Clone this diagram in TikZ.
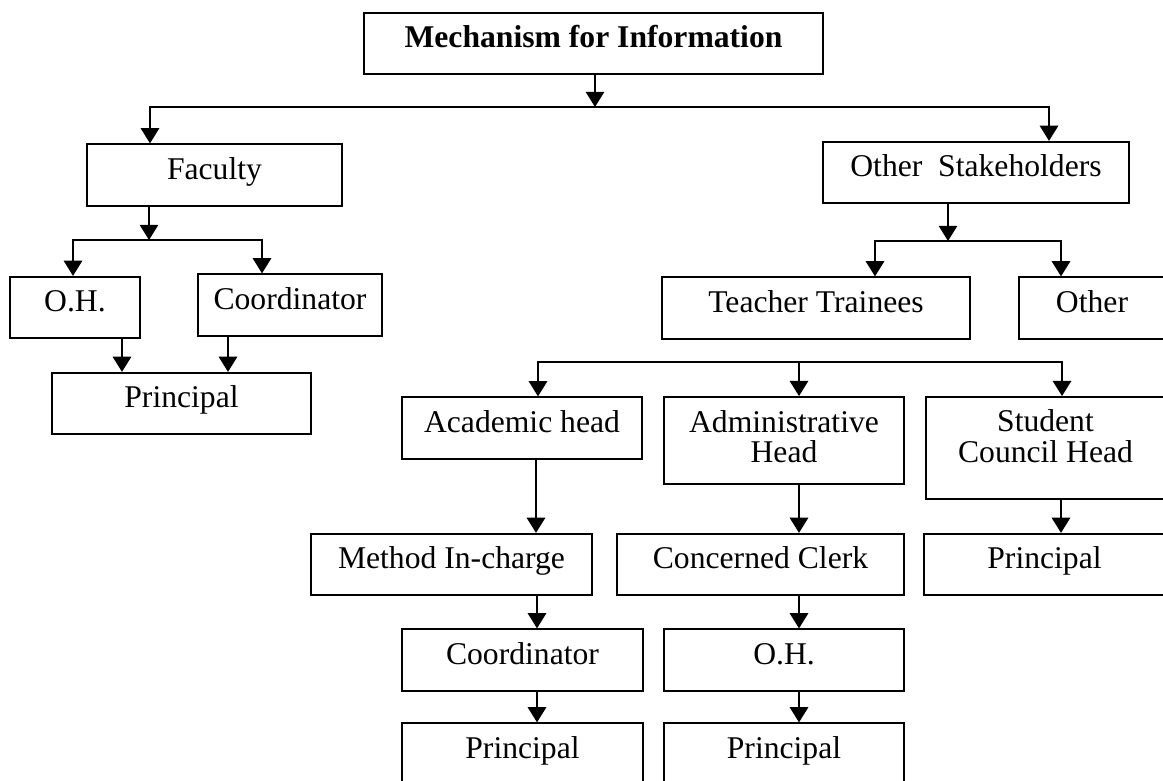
\documentclass[tikz,border=0pt]{standalone}
\usepackage{fontspec}
\setmainfont{Liberation Serif}
\usetikzlibrary{arrows.meta}
\newcommand{\twoline}[2]{\begin{tabular}[t]{@{}c@{}}#1\\#2\end{tabular}}
\begin{document}
\begin{tikzpicture}[x=0.025cm,y=-0.025cm,
  box/.style={draw,line width=1.3pt,inner sep=0pt,text height=0.875cm,text depth=0.66cm,
    font=\fontsize{22.5}{21.3}\selectfont},
  arr/.style={line width=1.3pt,-{Triangle[length=3.8mm,width=4.6mm]}}]
  \useasboundingbox (0,0) rectangle (1163,781);
  \clip (0,0) rectangle (1163,781);
  \node[box,minimum width=11.475cm,font=\fontsize{22.5}{21.3}\selectfont\bfseries](title) at (593.5,43.5) {Mechanism for Information};
  % faculty side
  \node[box,minimum width=6.375cm](fac) at (214.5,175) {Faculty};
  \node[box,minimum width=3.25cm](oh1) at (75,307.5) {O.H.};
  \node[box,minimum width=4.6cm](coo1) at (290,305) {Coordinator};
  \node[box,minimum width=6.475cm](pri1) at (181.5,403.5) {Principal};
  % other stakeholders side
  \node[box,minimum width=7.65cm](os) at (976,172.5) {Other\ \ Stakeholders};
  \node[box,minimum width=7.7cm](tt) at (816,308) {Teacher Trainees};
  \node[box,minimum width=3.65cm](oth) at (1092,308) {Other};
  \node[box,minimum width=6cm](aca) at (522,428) {Academic head};
  \node[box,minimum width=6cm,text depth=1.3cm](adm) at (784,440.5) {\twoline{Administrative}{Head}};
  \node[box,minimum width=5.975cm,text depth=1.675cm](sch) at (1045.5,448) {\twoline{Student}{Council Head}};
  \node[box,minimum width=7.025cm](met) at (451.5,564.5) {Method In-charge};
  \node[box,minimum width=7.175cm](clk) at (760.5,564.5) {Concerned Clerk};
  \node[box,minimum width=6.025cm](pri3) at (1044.5,564.5) {Principal};
  \node[box,minimum width=6.025cm](coo2) at (522.5,660) {Coordinator};
  \node[box,minimum width=6cm](oh2) at (784,660) {O.H.};
  \node[box,minimum width=6.025cm](pri4) at (522.5,754) {Principal};
  \node[box,minimum width=6cm](pri5) at (784,754) {Principal};
  \coordinate (j1) at (595,107);
  \coordinate (j2) at (149,240);
  \coordinate (j3) at (948,241);
  \coordinate (j4) at (799,362);
  \draw[arr] (title.south -| j1) -- (j1);
  \draw[arr] (j1) -| (fac.north -| 150,0);
  \draw[arr] (j1) -| (os.north -| 1049,0);
  \draw[arr] (fac.south -| j2) -- (j2);
  \draw[arr] (j2) -| (oh1.north -| 73,0);
  \draw[arr] (j2) -| (coo1.north -| 262,0);
  \draw[arr] (oh1.south -| 122,0) -- (pri1.north -| 122,0);
  \draw[arr] (coo1.south -| 228,0) -- (pri1.north -| 228,0);
  \draw[arr] (os.south -| j3) -- (j3);
  \draw[arr] (j3) -| (tt.north -| 875,0);
  \draw[arr] (j3) -| (oth.north -| 1061,0);
  \draw[arr] (j4) -| (aca.north -| 538,0);
  \draw[arr] (j4) -- (adm.north -| j4);
  \draw[arr] (j4) -| (sch.north -| 1062,0);
  \draw[arr] (aca.south -| 536,0) -- (met.north -| 536,0);
  \draw[arr] (adm.south -| j4) -- (clk.north -| j4);
  \draw[arr] (sch.south -| 1061,0) -- (pri3.north -| 1061,0);
  \draw[arr] (met.south -| 537,0) -- (coo2.north -| 537,0);
  \draw[arr] (clk.south -| j4) -- (oh2.north -| j4);
  \draw[arr] (coo2.south -| 537,0) -- (pri4.north -| 537,0);
  \draw[arr] (oh2.south -| j4) -- (pri5.north -| j4);
\end{tikzpicture}
\end{document}
